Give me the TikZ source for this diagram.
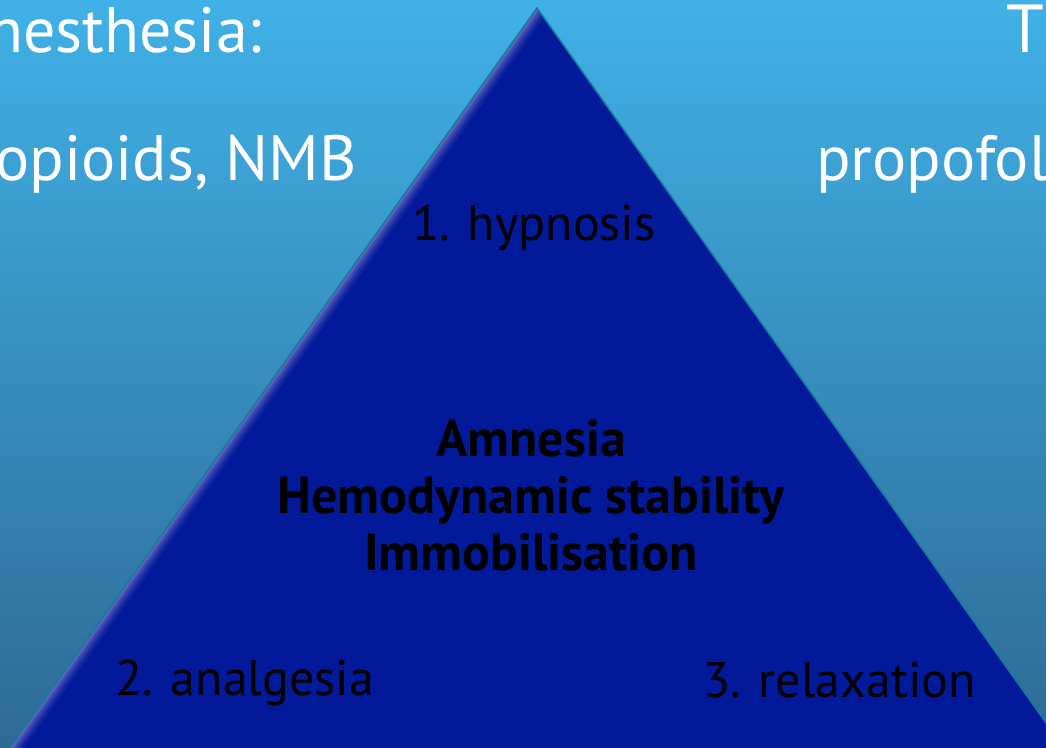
\documentclass[tikz,border=0pt]{standalone}
\usepackage{fontspec}
\setmainfont{PT Sans}
\definecolor{bgtop}{RGB}{64,177,231}
\definecolor{bgbot}{RGB}{46,106,148}
\definecolor{trifill}{RGB}{2,26,154}
\definecolor{triedge}{RGB}{22,120,160}
\definecolor{glow}{RGB}{185,175,225}
\tikzset{
  whitetxt/.style={text=white,inner sep=0pt,font=\fontsize{64}{68}\selectfont},
  blacktxt/.style={text=black,inner sep=0pt,font=\fontsize{50}{54}\selectfont},
  boldtxt/.style={text=black,inner sep=0pt,font=\bfseries\fontsize{52}{57}\selectfont,align=center}
}
\begin{document}
\begin{tikzpicture}[x=1pt,y=-1pt]
\useasboundingbox (0,0) rectangle (1046,747);
\clip (0,0) rectangle (1046,747);
\shade[top color=bgtop,bottom color=bgbot] (0,0) rectangle (1046,747);
% white texts
\node[whitetxt,anchor=base east] (anes) at (262,52) {nesthesia:};
\node[whitetxt,anchor=base east] (opi) at (357,180) {opioids, NMB};
\node[whitetxt,anchor=base west,font=\fontsize{68}{72}\selectfont] (tt) at (1006,52) {T};
\node[whitetxt,anchor=base west] (prop) at (816,180) {propofol};
% triangle
\coordinate (apex) at (537,8);
\coordinate (bl) at (-27,800);
\coordinate (br) at (1101,800);
\fill[trifill] (apex) -- (bl) -- (br) -- cycle;
\begin{scope}
\clip (apex) -- (bl) -- (br) -- cycle;
\foreach \w/\o in {22/0.08,16/0.12,11/0.16,6/0.22,2/0.3}{
  \draw[glow,opacity=\o,line width=\w pt] (apex) -- (bl);
}
\end{scope}
\draw[triedge,line width=1.5pt,line join=miter] (bl) -- (apex) -- (br);
% black texts
\node[blacktxt,anchor=base west] (hyp) at (412,240) {1. hypnosis};
\node[blacktxt,anchor=base west] (ana) at (115,695) {2. analgesia};
\node[blacktxt,anchor=base west] (rel) at (703,697) {3. relaxation};
\node[boldtxt,anchor=base] (mid) at (531,570) {Amnesia\\Hemodynamic stability\\Immobilisation};
\end{tikzpicture}
\end{document}
